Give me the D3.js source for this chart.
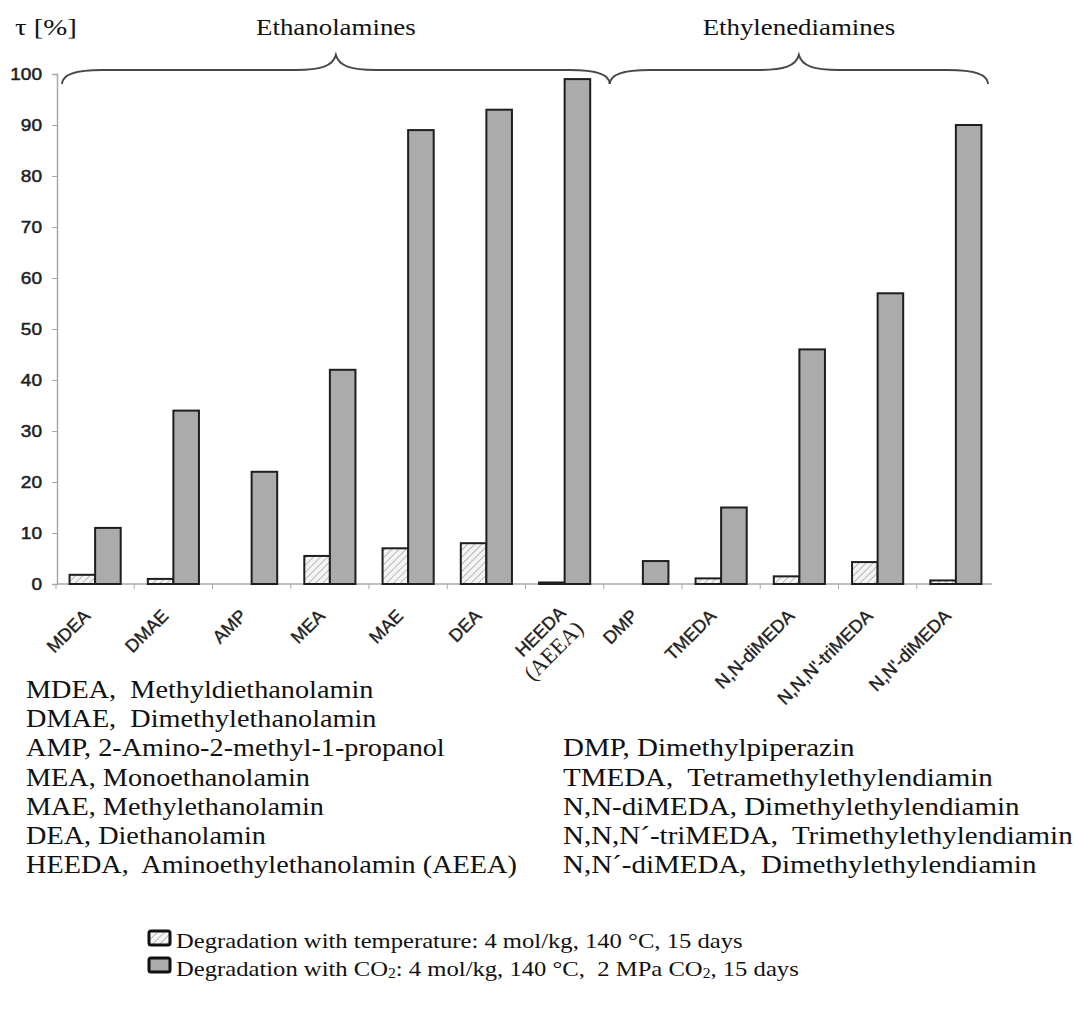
<!DOCTYPE html>
<html><head><meta charset="utf-8">
<script src="https://cdn.jsdelivr.net/npm/d3@7"></script>
<style>body{margin:0;background:#fff} text{white-space:pre}</style>
</head><body><svg id="c" width="1090" height="1022"></svg>
<script>
// ---------- data ----------
const categories = ["MDEA","DMAE","AMP","MEA","MAE","DEA","HEEDA\n(AEEA)","DMP","TMEDA","N,N-diMEDA","N,N,N'-triMEDA","N,N'-diMEDA"];
const tempValues = [1.8, 1.0, 0, 5.5, 7, 8, 0.3, 0, 1.1, 1.5, 4.3, 0.7];
const co2Values  = [11, 34, 22, 42, 89, 93, 99, 4.5, 15, 46, 57, 90];
const yTicks = [0,10,20,30,40,50,60,70,80,90,100];
const groupLabels = ["Ethanolamines","Ethylenediamines"];
const groupStart = [0, 7];
const groupEnd = [6, 11];
const yTitle = "τ [%]";
const abbrevLeft = [
  "MDEA,  Methyldiethanolamin",
  "DMAE,  Dimethylethanolamin",
  "AMP, 2-Amino-2-methyl-1-propanol",
  "MEA, Monoethanolamin",
  "MAE, Methylethanolamin",
  "DEA, Diethanolamin",
  "HEEDA,  Aminoethylethanolamin (AEEA)"
];
const abbrevRight = [
  "DMP, Dimethylpiperazin",
  "TMEDA,  Tetramethylethylendiamin",
  "N,N-diMEDA, Dimethylethylendiamin",
  "N,N,N´-triMEDA,  Trimethylethylendiamin",
  "N,N´-diMEDA,  Dimethylethylendiamin"
];
const legendTemp = ["Degradation with temperature: 4 mol/kg, 140 °C, 15 days"];
const legendCO2 = ["Degradation with CO", "2", ": 4 mol/kg, 140 °C,  2 MPa CO", "2", ", 15 days"];

// ---------- layout ----------
const svg = d3.select("#c");
const SX = 1.12; // horizontal stretch of the scanned original
const serif = "'Liberation Serif','Times New Roman',serif";
const sans = "'Liberation Sans',Arial,sans-serif";

const defs = svg.append("defs");
const pat = defs.append("pattern").attr("id","hatch").attr("patternUnits","userSpaceOnUse")
  .attr("width",5).attr("height",5).attr("patternTransform","rotate(45)");
pat.append("rect").attr("width",5).attr("height",5).attr("fill","#f4f4f4");
pat.append("line").attr("x1",0).attr("y1",0).attr("x2",0).attr("y2",5)
  .attr("stroke","#b8b8b8").attr("stroke-width",2);

const x = d3.scaleBand().domain(categories).range([56, 995]).padding(0);
const sub = d3.scaleBand().domain(["temp","co2"]).range([0, x.bandwidth()]).paddingInner(0).paddingOuter(0.53);
const y = d3.scaleLinear().domain([0,100]).range([584, 74]);

function stretchText(sel, px, py, sx) {
  return sel.attr("transform", `translate(${px},${py}) scale(${sx || SX},1)`);
}

// y axis
const yAxis = svg.append("g").attr("transform","translate(57,0)")
  .call(d3.axisLeft(y).tickValues(yTicks).tickSize(5).tickPadding(0));
yAxis.select(".domain").attr("stroke","#a8a8a8").attr("stroke-width",1.5);
yAxis.selectAll(".tick line").attr("stroke","#a8a8a8");
yAxis.selectAll(".tick text").remove();
yTicks.forEach(v => {
  stretchText(svg.append("text"), 42, y(v) + 6)
    .attr("text-anchor","end").attr("font-family",sans).attr("font-size",17)
    .attr("fill","#222").attr("stroke","#222").attr("stroke-width",0.5).text(v);
});

// x axis
const xAxisG = svg.append("g");
xAxisG.append("line").attr("x1",57).attr("x2",992).attr("y1",y(0)).attr("y2",y(0))
  .attr("stroke","#a8a8a8").attr("stroke-width",1.5);
d3.range(categories.length).forEach(i => {
  const bx = x(categories[i]);
  xAxisG.append("line").attr("x1",bx).attr("x2",bx).attr("y1",y(0)).attr("y2",y(0)+5)
    .attr("stroke","#a8a8a8");
});

// bars
const barG = svg.append("g");
categories.forEach((c,i) => {
  const bx = x(c);
  if (tempValues[i] > 0) {
    barG.append("rect").attr("x", bx + sub("temp")).attr("y", y(tempValues[i]))
      .attr("width", sub.bandwidth()).attr("height", y(0) - y(tempValues[i]))
      .attr("fill","url(#hatch)").attr("stroke","#1e1e1e").attr("stroke-width",2);
  }
  if (co2Values[i] > 0) {
    barG.append("rect").attr("x", bx + sub("co2")).attr("y", y(co2Values[i]))
      .attr("width", sub.bandwidth()).attr("height", y(0) - y(co2Values[i]))
      .attr("fill","#ababab").attr("stroke","#1e1e1e").attr("stroke-width",2);
  }
});

// x labels rotated
categories.forEach((c,i) => {
  const cx = x(c) + x.bandwidth()/2;
  const lines = c.split("\n");
  if (lines.length === 1) {
    svg.append("text").attr("transform",`translate(${cx-4},${y(0)+33}) rotate(-45)`)
      .attr("text-anchor","end").attr("font-family",sans).attr("font-size",18)
      .attr("fill","#222").attr("stroke","#222").attr("stroke-width",0.4).text(lines[0]);
  } else {
    svg.append("text").attr("transform",`translate(${cx+2},${y(0)+30}) rotate(-45)`)
      .attr("text-anchor","end").attr("font-family",sans).attr("font-size",18)
      .attr("fill","#222").attr("stroke","#222").attr("stroke-width",0.4).text(lines[0]);
    svg.append("text").attr("transform",`translate(${cx+20},${y(0)+46}) rotate(-45)`)
      .attr("text-anchor","end").attr("font-family",serif).attr("font-size",22)
      .attr("fill","#222").text(lines[1]);
  }
});

// braces
function bracePath(x0, x1) {
  const yE = 84, yL = 70, yT = 55, xm = (x0 + x1)/2;
  return `M${x0},${yE} C${x0},75 ${x0+12},${yL} ${x0+40},${yL} L${xm-40},${yL} ` +
    `C${xm-15},${yL} ${xm-3},66 ${xm},${yT} C${xm+3},66 ${xm+15},${yL} ${xm+40},${yL} ` +
    `L${x1-40},${yL} C${x1-12},${yL} ${x1},75 ${x1},${yE}`;
}
groupLabels.forEach((g,k) => {
  const x0 = x(categories[groupStart[k]]) + 6;
  const x1 = k === 0 ? x(categories[groupEnd[k]]) + x.bandwidth() + 6 : x(categories[groupEnd[k]]) + x.bandwidth() - 7;
  svg.append("path").attr("d", bracePath(x0, x1)).attr("fill","none")
    .attr("stroke","#484848").attr("stroke-width",2);
  stretchText(svg.append("text"), (x0+x1)/2, 35).attr("text-anchor","middle")
    .attr("font-family",serif).attr("font-size",24).attr("fill","#111").text(g);
});
stretchText(svg.append("text"), 15, 35, 1.2).attr("font-family",serif).attr("font-size",24)
  .attr("fill","#111").text(yTitle);

// abbreviation lists
abbrevLeft.forEach((t,i) => {
  stretchText(svg.append("text"), 26, 698 + i*29.2, 1.13).attr("font-family",serif)
    .attr("font-size",25).attr("fill","#111").text(t);
});
abbrevRight.forEach((t,i) => {
  stretchText(svg.append("text"), 563, 698 + (i+2)*29.2, 1.16).attr("font-family",serif)
    .attr("font-size",25).attr("fill","#111").text(t);
});

// legend
svg.append("rect").attr("x",149).attr("y",931).attr("width",21).attr("height",14).attr("rx",2)
  .attr("fill","url(#hatch)").attr("stroke","#111").attr("stroke-width",3);
svg.append("rect").attr("x",149).attr("y",958).attr("width",21).attr("height",14).attr("rx",2)
  .attr("fill","#ababab").attr("stroke","#111").attr("stroke-width",3);
stretchText(svg.append("text"), 176, 948).attr("font-family",serif).attr("font-size",22)
  .attr("fill","#111").text(legendTemp[0]);
const l2 = stretchText(svg.append("text"), 176, 976).attr("font-family",serif).attr("font-size",22).attr("fill","#111");
legendCO2.forEach((s,i) => {
  const ts = l2.append("tspan").text(s);
  if (s === "2") ts.attr("font-size",14).attr("dy",2);
  else if (i > 0) ts.attr("dy",-2);
});
</script></body></html>
